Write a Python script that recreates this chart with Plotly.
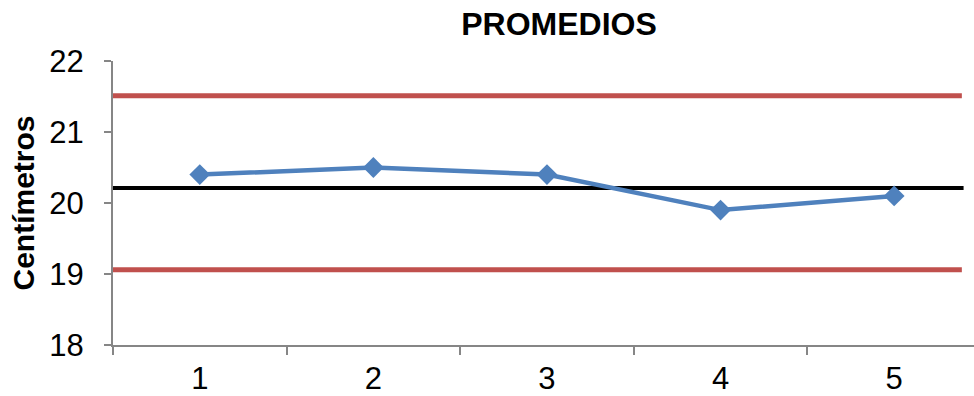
import plotly.graph_objects as go

# Sample numbers and their averages
samples = [1, 2, 3, 4, 5]
averages = [20.4, 20.5, 20.4, 19.9, 20.1]

# Control limits and central line
upper_limit = 21.51
center_line = 20.21
lower_limit = 19.06

# Horizontal extent of the control lines (in x-axis units)
limit_span = [0.48, 5.39]
center_span = [0.5, 5.40]

y_ticks = [18, 19, 20, 21, 22]

AXIS_GREY = "#868686"
RED = "#C0504D"
BLUE = "#4F81BD"
FONT = "Liberation Sans, Arial, sans-serif"

fig = go.Figure()

fig.add_trace(go.Scatter(x=limit_span, y=[upper_limit] * 2, mode="lines",
                         line=dict(color=RED, width=5), cliponaxis=False,
                         hoverinfo="skip", showlegend=False))
fig.add_trace(go.Scatter(x=limit_span, y=[lower_limit] * 2, mode="lines",
                         line=dict(color=RED, width=5), cliponaxis=False,
                         hoverinfo="skip", showlegend=False))
fig.add_trace(go.Scatter(x=center_span, y=[center_line] * 2, mode="lines",
                         line=dict(color="black", width=4), cliponaxis=False,
                         hoverinfo="skip", showlegend=False))
fig.add_trace(go.Scatter(x=samples, y=averages, mode="lines+markers",
                         line=dict(color=BLUE, width=4.5),
                         marker=dict(symbol="diamond", size=16, color=BLUE),
                         showlegend=False))

fig.update_layout(
    width=974, height=396,
    margin=dict(l=113, r=0, t=61, b=51),
    paper_bgcolor="white", plot_bgcolor="white",
    font=dict(family=FONT, color="black", size=31),
    title=dict(text="<b>PROMEDIOS</b>", font=dict(size=32),
               x=559 / 974, xref="container", xanchor="center",
               y=1 - 24 / 396, yref="container", yanchor="middle"),
)

fig.update_xaxes(
    range=[0.5, 5.46], tickvals=samples, ticktext=[str(s) for s in samples],
    ticks="", showgrid=False, zeroline=False,
    showline=True, linecolor=AXIS_GREY, linewidth=2,
    tickfont=dict(size=31), ticklabelstandoff=5,
    minor=dict(ticks="outside", tick0=0.5, dtick=1, ticklen=8,
               tickcolor=AXIS_GREY, tickwidth=1.5, showgrid=False),
)
fig.update_yaxes(
    range=[18, 22], tickvals=y_ticks, ticks="outside", ticklen=7,
    tickcolor=AXIS_GREY, tickwidth=1.5, showgrid=False, zeroline=False,
    showline=True, linecolor=AXIS_GREY, linewidth=2,
    tickfont=dict(size=31), ticklabelstandoff=14,
    title=dict(text="<b>Centímetros</b>", font=dict(size=30), standoff=6),
)

fig.write_html("out.html")
